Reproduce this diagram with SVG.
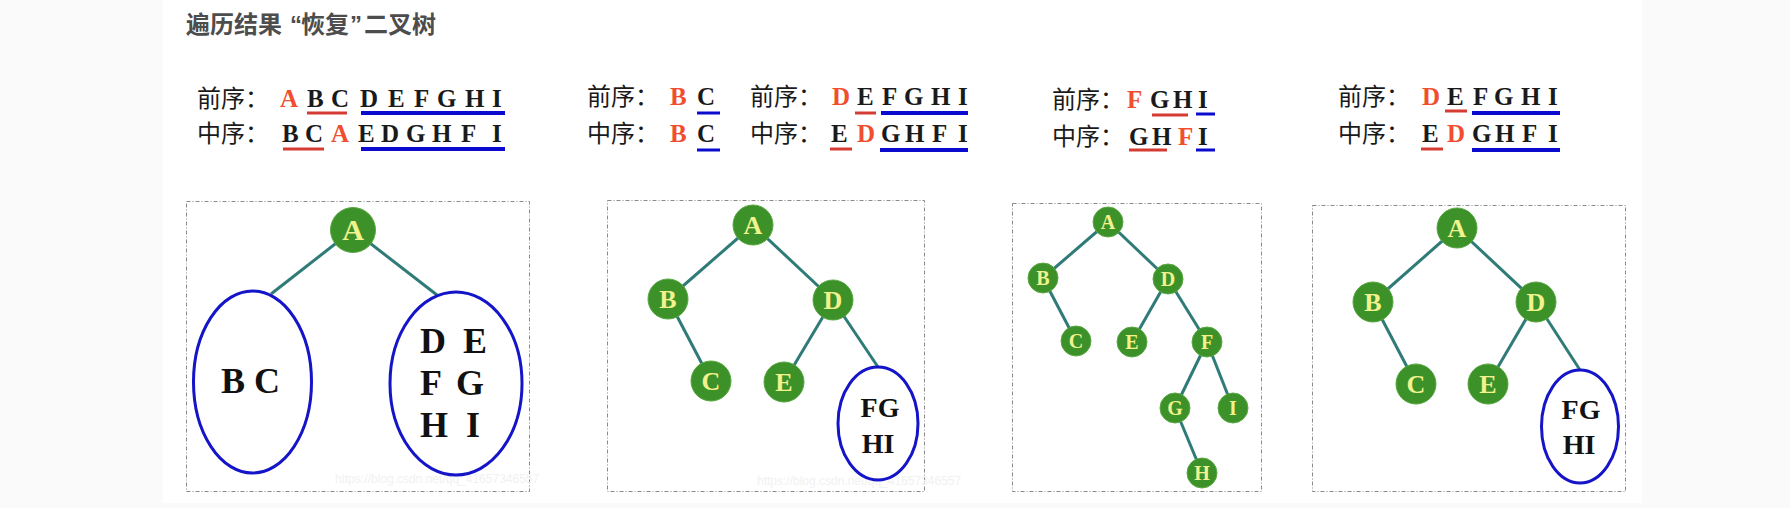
<svg xmlns="http://www.w3.org/2000/svg" width="1790" height="508" viewBox="0 0 1790 508">
<style>
.title{font-family:"Liberation Sans","Noto Sans CJK SC",sans-serif;font-weight:bold;font-size:24px;fill:#4d4d4d}
.lbl{font-family:"Liberation Serif","Noto Sans CJK SC",serif;font-size:24px;fill:#1a1a1a}
.lt{font-family:"Liberation Serif",serif;font-weight:bold;font-size:25px;fill:#1a1a1a}
.rd{fill:#f04e2e}
.ulr{stroke:#d43b33;stroke-width:3}
.ulb{stroke:#0b0bd0;stroke-width:4}
.box{fill:none;stroke:#8a8a8a;stroke-width:1;stroke-dasharray:4 2 1 2}
.nd{fill:#3c9129;stroke:#5aa844;stroke-width:1}
.nt{font-family:"Liberation Serif",serif;font-weight:bold;fill:#f2f28e;text-anchor:middle}
.el{fill:none;stroke:#1414c8;stroke-width:3}
.et{font-family:"Liberation Serif",serif;font-weight:bold;fill:#111}
.cn line{stroke:#2f7b78;stroke-width:3}
.wm{font-family:"Liberation Sans",sans-serif;font-size:12px;fill:#f1f1f1}
</style>
<rect width="1790" height="508" fill="#fafafa"/>
<rect x="163" y="0" width="1479" height="503" fill="#ffffff"/>
<text class="title" y="33"><tspan x="186">遍历结果</tspan><tspan x="290">“</tspan><tspan x="301">恢复</tspan><tspan x="350">”</tspan><tspan x="364">二叉树</tspan></text>

<g id="seq1">
<text class="lbl" x="197" y="107">前序：</text>
<text class="lt" y="107"><tspan class="rd" x="280">A</tspan><tspan x="307">B</tspan><tspan x="331">C</tspan><tspan x="360">D</tspan><tspan x="388">E</tspan><tspan x="414">F</tspan><tspan x="437">G</tspan><tspan x="465">H</tspan><tspan x="492">I</tspan></text>
<line class="ulr" x1="307" y1="113" x2="347" y2="113"/>
<line class="ulb" x1="361" y1="113" x2="505" y2="113"/>
<text class="lbl" x="197" y="142">中序：</text>
<text class="lt" y="142"><tspan x="282">B</tspan><tspan x="305">C</tspan><tspan class="rd" x="331">A</tspan><tspan x="358">E</tspan><tspan x="381">D</tspan><tspan x="406">G</tspan><tspan x="432">H</tspan><tspan x="461">F</tspan><tspan x="492">I</tspan></text>
<line class="ulr" x1="283" y1="149" x2="324" y2="149"/>
<line class="ulb" x1="361" y1="149" x2="505" y2="149"/>
</g>

<g id="seq2a">
<text class="lbl" x="587" y="105">前序：</text>
<text class="lt" y="105"><tspan class="rd" x="670">B</tspan><tspan x="697">C</tspan></text>
<line class="ulb" x1="697" y1="113" x2="720" y2="113" style="stroke-width:3"/>
<text class="lbl" x="587" y="142">中序：</text>
<text class="lt" y="142"><tspan class="rd" x="670">B</tspan><tspan x="697">C</tspan></text>
<line class="ulb" x1="697" y1="150" x2="720" y2="150" style="stroke-width:3"/>
</g>

<g id="seq2b">
<text class="lbl" x="750" y="105">前序：</text>
<text class="lt" y="105"><tspan class="rd" x="832">D</tspan><tspan x="857">E</tspan><tspan x="882">F</tspan><tspan x="904">G</tspan><tspan x="931">H</tspan><tspan x="958">I</tspan></text>
<line class="ulr" x1="855" y1="113" x2="876" y2="113"/>
<line class="ulb" x1="881" y1="113" x2="968" y2="113"/>
<text class="lbl" x="750" y="142">中序：</text>
<text class="lt" y="142"><tspan x="831">E</tspan><tspan class="rd" x="857">D</tspan><tspan x="881">G</tspan><tspan x="905">H</tspan><tspan x="932">F</tspan><tspan x="958">I</tspan></text>
<line class="ulr" x1="830" y1="149" x2="852" y2="149"/>
<line class="ulb" x1="880" y1="150" x2="968" y2="150"/>
</g>

<g id="seq3">
<text class="lbl" x="1052" y="108">前序：</text>
<text class="lt" y="108"><tspan class="rd" x="1127">F</tspan><tspan x="1150">G</tspan><tspan x="1173">H</tspan><tspan x="1198">I</tspan></text>
<line class="ulr" x1="1152" y1="115" x2="1188" y2="115"/>
<line class="ulb" x1="1196" y1="114" x2="1215" y2="114" style="stroke-width:3"/>
<text class="lbl" x="1052" y="145">中序：</text>
<text class="lt" y="145"><tspan x="1129">G</tspan><tspan x="1152">H</tspan><tspan class="rd" x="1178">F</tspan><tspan x="1198">I</tspan></text>
<line class="ulr" x1="1129" y1="150" x2="1167" y2="150"/>
<line class="ulb" x1="1196" y1="150" x2="1215" y2="150" style="stroke-width:3"/>
</g>

<g id="seq4">
<text class="lbl" x="1338" y="105">前序：</text>
<text class="lt" y="105"><tspan class="rd" x="1422">D</tspan><tspan x="1447">E</tspan><tspan x="1473">F</tspan><tspan x="1494">G</tspan><tspan x="1521">H</tspan><tspan x="1548">I</tspan></text>
<line class="ulr" x1="1445" y1="111" x2="1467" y2="111"/>
<line class="ulb" x1="1472" y1="113" x2="1560" y2="113"/>
<text class="lbl" x="1338" y="142">中序：</text>
<text class="lt" y="142"><tspan x="1422">E</tspan><tspan class="rd" x="1447">D</tspan><tspan x="1472">G</tspan><tspan x="1495">H</tspan><tspan x="1522">F</tspan><tspan x="1548">I</tspan></text>
<line class="ulr" x1="1421" y1="149" x2="1443" y2="149"/>
<line class="ulb" x1="1472" y1="150" x2="1560" y2="150"/>
</g>

<rect class="box" x="186.5" y="201.5" width="343" height="290"/>
<rect class="box" x="607.5" y="200.5" width="317" height="291"/>
<rect class="box" x="1012.5" y="203.5" width="249" height="288"/>
<rect class="box" x="1312.5" y="205.5" width="313" height="286"/>

<text class="wm" x="335" y="483">https://blog.csdn.net/qq_41657346557</text>
<text class="wm" x="757" y="485">https://blog.csdn.net/qq_41657346557</text>

<g id="connectors" class="cn">
<line x1="353" y1="230" x2="271" y2="294"/>
<line x1="353" y1="230" x2="437" y2="295"/>
<line x1="753" y1="225" x2="668" y2="299"/>
<line x1="753" y1="225" x2="833" y2="300"/>
<line x1="668" y1="299" x2="711" y2="381"/>
<line x1="833" y1="300" x2="784" y2="382"/>
<line x1="833" y1="300" x2="878" y2="367"/>
<g style="stroke-width:2.5">
<line x1="1108" y1="222" x2="1043" y2="278"/>
<line x1="1108" y1="222" x2="1168" y2="279"/>
<line x1="1043" y1="278" x2="1076" y2="341"/>
<line x1="1168" y1="279" x2="1132" y2="342"/>
<line x1="1168" y1="279" x2="1207" y2="342"/>
<line x1="1207" y1="342" x2="1175" y2="408"/>
<line x1="1207" y1="342" x2="1233" y2="408"/>
<line x1="1175" y1="408" x2="1202" y2="473"/>
</g>
<line x1="1457" y1="228" x2="1373" y2="302"/>
<line x1="1457" y1="228" x2="1536" y2="302"/>
<line x1="1373" y1="302" x2="1416" y2="384"/>
<line x1="1536" y1="302" x2="1488" y2="384"/>
<line x1="1536" y1="302" x2="1580" y2="370"/>
</g>

<g id="p1-A"><circle class="nd" cx="353" cy="230" r="22.5"/><text class="nt" x="353" y="240" font-size="30">A</text></g>
<g id="p1-BC"><ellipse class="el" cx="252.5" cy="382" rx="59" ry="91"/><text class="et" x="221" y="393" font-size="36">B C</text></g>
<g id="p1-DI"><ellipse class="el" cx="456" cy="383.5" rx="66" ry="91.5"/>
<text class="et" font-size="36" y="353"><tspan x="420">D</tspan><tspan x="463">E</tspan></text>
<text class="et" font-size="36" y="395"><tspan x="420">F</tspan><tspan x="456">G</tspan></text>
<text class="et" font-size="36" y="437"><tspan x="420">H</tspan><tspan x="466">I</tspan></text></g>

<g id="p2-A"><circle class="nd" cx="753" cy="225" r="20"/><text class="nt" x="753" y="234" font-size="26">A</text></g>
<g id="p2-B"><circle class="nd" cx="668" cy="299" r="20"/><text class="nt" x="668" y="308" font-size="26">B</text></g>
<g id="p2-D"><circle class="nd" cx="833" cy="300" r="20"/><text class="nt" x="833" y="309" font-size="26">D</text></g>
<g id="p2-C"><circle class="nd" cx="711" cy="381" r="20"/><text class="nt" x="711" y="390" font-size="26">C</text></g>
<g id="p2-E"><circle class="nd" cx="784" cy="382" r="20"/><text class="nt" x="784" y="391" font-size="26">E</text></g>
<g id="p2-FGHI"><ellipse class="el" cx="878" cy="423.5" rx="40" ry="56.5"/>
<text class="et" font-size="28" text-anchor="middle" x="880" y="417">FG</text>
<text class="et" font-size="28" text-anchor="middle" x="878" y="453">HI</text></g>

<g id="p3-A"><circle class="nd" cx="1108" cy="222" r="15"/><text class="nt" x="1108" y="229" font-size="20">A</text></g>
<g id="p3-B"><circle class="nd" cx="1043" cy="278" r="15"/><text class="nt" x="1043" y="285" font-size="20">B</text></g>
<g id="p3-D"><circle class="nd" cx="1168" cy="279" r="15"/><text class="nt" x="1168" y="286" font-size="20">D</text></g>
<g id="p3-C"><circle class="nd" cx="1076" cy="341" r="15"/><text class="nt" x="1076" y="348" font-size="20">C</text></g>
<g id="p3-E"><circle class="nd" cx="1132" cy="342" r="15"/><text class="nt" x="1132" y="349" font-size="20">E</text></g>
<g id="p3-F"><circle class="nd" cx="1207" cy="342" r="15"/><text class="nt" x="1207" y="349" font-size="20">F</text></g>
<g id="p3-G"><circle class="nd" cx="1175" cy="408" r="15"/><text class="nt" x="1175" y="415" font-size="20">G</text></g>
<g id="p3-I"><circle class="nd" cx="1233" cy="408" r="15"/><text class="nt" x="1233" y="415" font-size="20">I</text></g>
<g id="p3-H"><circle class="nd" cx="1202" cy="473" r="15"/><text class="nt" x="1202" y="480" font-size="20">H</text></g>

<g id="p4-A"><circle class="nd" cx="1457" cy="228" r="20"/><text class="nt" x="1457" y="237" font-size="26">A</text></g>
<g id="p4-B"><circle class="nd" cx="1373" cy="302" r="20"/><text class="nt" x="1373" y="311" font-size="26">B</text></g>
<g id="p4-D"><circle class="nd" cx="1536" cy="302" r="20"/><text class="nt" x="1536" y="311" font-size="26">D</text></g>
<g id="p4-C"><circle class="nd" cx="1416" cy="384" r="20"/><text class="nt" x="1416" y="393" font-size="26">C</text></g>
<g id="p4-E"><circle class="nd" cx="1488" cy="384" r="20"/><text class="nt" x="1488" y="393" font-size="26">E</text></g>
<g id="p4-FGHI"><ellipse class="el" cx="1580" cy="426.5" rx="38.5" ry="56.5"/>
<text class="et" font-size="28" text-anchor="middle" x="1581" y="419">FG</text>
<text class="et" font-size="28" text-anchor="middle" x="1579" y="454">HI</text></g>
</svg>
